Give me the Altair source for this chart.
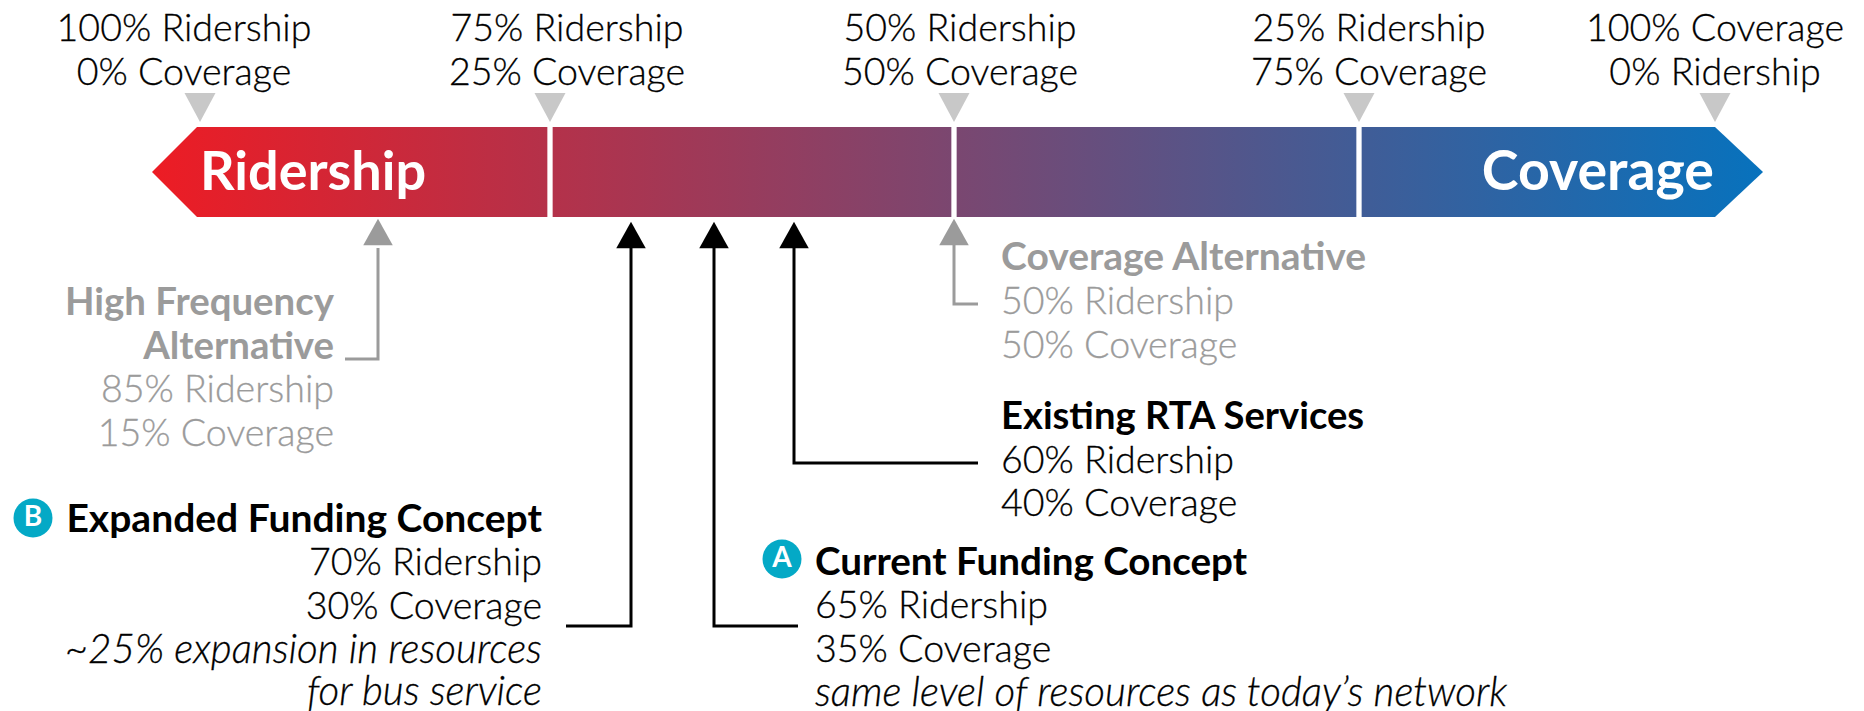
import altair as alt
import pandas as pd

FONT = "Lato"
BLACK = "#000000"
GREY = "#9b9b9b"
TICK_GREY = "#c8c8c8"
TEAL = "#04a9c6"

# band outline (position along the spectrum)
band_x = [152, 197, 1715, 1763]
band_top = [172, 127, 127, 172]
band_bottom = [172, 217, 217, 172]
separator_x = [550, 954, 1359]
tick_x = [200, 550, 954, 1359, 1715]
tick_y = [107.5] * 5

# leader arrows: name, colour, points along the leader (arrow head at the first point)
grey_arrows = [
    ("high", [(378, 248), (378, 359), (345, 359)]),
    ("coverage", [(954, 245), (954, 304), (978, 304)]),
]
black_arrows = [
    ("expanded", [(631, 248), (631, 626), (566, 626)]),
    ("current", [(714, 248), (714, 626), (798, 626)]),
    ("existing", [(794, 248), (794, 463), (978, 463)]),
]
grey_heads_x, grey_heads_y = [378, 954], [232, 232]
black_heads_x, black_heads_y = [631, 714, 794], [235, 235, 235]

top_labels = [
    (184, 41, "100% Ridership"), (184, 85, "0% Coverage"),
    (567, 41, "75% Ridership"), (567, 85, "25% Coverage"),
    (960, 41, "50% Ridership"), (960, 85, "50% Coverage"),
    (1369, 41, "25% Ridership"), (1369, 85, "75% Coverage"),
    (1715, 41, "100% Coverage"), (1715, 85, "0% Ridership"),
]
grey_left_bold = [(1001, 270, "Coverage Alternative")]
grey_left = [(1001, 314, "50% Ridership"), (1001, 358, "50% Coverage")]
grey_right_bold = [(334, 315, "High Frequency"), (334, 359, "Alternative")]
grey_right = [(334, 402, "85% Ridership"), (334, 446, "15% Coverage")]
existing_bold = [(1001, 429, "Existing RTA Services")]
current_bold = [(815, 575, "Current Funding Concept")]
black_left = [(1001, 473, "60% Ridership"), (1001, 516, "40% Coverage"),
              (815, 618, "65% Ridership"), (815, 662, "35% Coverage")]
black_left_italic = [(815, 706, "same level of resources as today\u2019s network")]
black_right_bold = [(542, 532, "Expanded Funding Concept")]
black_right = [(542, 575, "70% Ridership"), (542, 619, "30% Coverage")]
black_right_italic = [(542, 663, "~25% expansion in resources"), (542, 705, "for bus service")]
badges = [(33, 518, "B"), (782, 559, "A")]
band_left_label = [(200, 190, "Ridership")]
band_right_label = [(1714, 190, "Coverage")]

X = alt.X("x:Q", axis=None, scale=alt.Scale(domain=[8, 1856], nice=False, zero=False))
Y = alt.Y("y:Q", axis=None, scale=alt.Scale(domain=[711, 8], nice=False, zero=False))

SIZE = 37.6
BOLD = 38.6
ITALIC = 40.4


def frame(rows):
    return pd.DataFrame(rows, columns=["x", "y", "t"])


def text_layer(rows, color=BLACK, align="left", weight=300, style="normal", size=SIZE, stroke=0.3):
    return alt.Chart(frame(rows)).mark_text(
        font=FONT, fontSize=size, fontWeight=weight, fontStyle=style, color=color,
        stroke=color, strokeWidth=stroke,
        align=align, baseline="alphabetic",
    ).encode(x=X, y=Y, text="t:N")


def arrow_layer(arrows, color):
    rows = []
    for name, points in arrows:
        for i, (px, py) in enumerate(points):
            rows.append({"x": px, "y": py, "name": name, "i": i})
    return alt.Chart(pd.DataFrame(rows)).mark_line(
        color=color, strokeWidth=3, strokeJoin="miter", strokeCap="butt"
    ).encode(x=X, y=Y, detail="name:N", order="i:Q")


def triangle_layer(xs, ys, color, path, size):
    return alt.Chart(pd.DataFrame({"x": xs, "y": ys})).mark_point(
        shape=path, filled=True, color=color, opacity=1, size=size, strokeWidth=0
    ).encode(x=X, y=Y)


band = alt.Chart(pd.DataFrame({"x": band_x, "y": band_top, "y2": band_bottom})).mark_area(
    color=alt.Gradient(
        gradient="linear", x1=0, x2=1, y1=0, y2=0,
        stops=[alt.GradientStop(color="#ed1c24", offset=0),
               alt.GradientStop(color="#0772bd", offset=1)],
    ),
).encode(x=X, y=Y, y2="y2:Q")

separators = alt.Chart(pd.DataFrame({"x": separator_x, "y": [126] * 3, "y2": [218] * 3})).mark_rule(
    color="#ffffff", strokeWidth=5.3
).encode(x=X, y=Y, y2="y2:Q")

down = "M-1,-0.94L1,-0.94L0,0.94Z"
up = "M-1,0.9L1,0.9L0,-0.9Z"

badge_df = frame(badges)
badge_circles = alt.Chart(badge_df).mark_point(
    shape="circle", filled=True, color=TEAL, opacity=1, size=1520, strokeWidth=0
).encode(x=X, y=Y)
badge_text = alt.Chart(badge_df).mark_text(
    font=FONT, fontSize=28, fontWeight=700, color="#ffffff", baseline="middle", align="center"
).encode(x=X, y=Y, text="t:N")

chart = alt.layer(
    band, separators,
    triangle_layer(tick_x, tick_y, TICK_GREY, down, 961),
    arrow_layer(grey_arrows, GREY), arrow_layer(black_arrows, BLACK),
    triangle_layer(grey_heads_x, grey_heads_y, GREY, up, 870),
    triangle_layer(black_heads_x, black_heads_y, BLACK, up, 870),
    text_layer(top_labels, align="center"),
    text_layer(grey_left_bold, GREY, weight=700, size=39, stroke=0),
    text_layer(grey_left, GREY),
    text_layer(grey_right_bold, GREY, "right", 700, size=38.4, stroke=0),
    text_layer(grey_right, GREY, "right"),
    text_layer(existing_bold, weight=700, size=38.2, stroke=0),
    text_layer(current_bold, weight=700, size=BOLD, stroke=0),
    text_layer(black_left),
    text_layer(black_left_italic, style="italic", size=ITALIC),
    text_layer(black_right_bold, align="right", weight=700, size=39, stroke=0),
    text_layer(black_right, align="right"),
    text_layer(black_right_italic, align="right", style="italic", size=ITALIC),
    text_layer(band_left_label, "#ffffff", weight=700, size=54, stroke=0),
    text_layer(band_right_label, "#ffffff", "right", 700, size=55.5, stroke=0),
    badge_circles, badge_text,
).properties(
    width=1848, height=703, padding=0,
    autosize=alt.AutoSizeParams(type="none"),
    background="#ffffff",
).configure_view(stroke=None)

chart.save("out.html", embed_options={"renderer": "svg", "actions": False})
